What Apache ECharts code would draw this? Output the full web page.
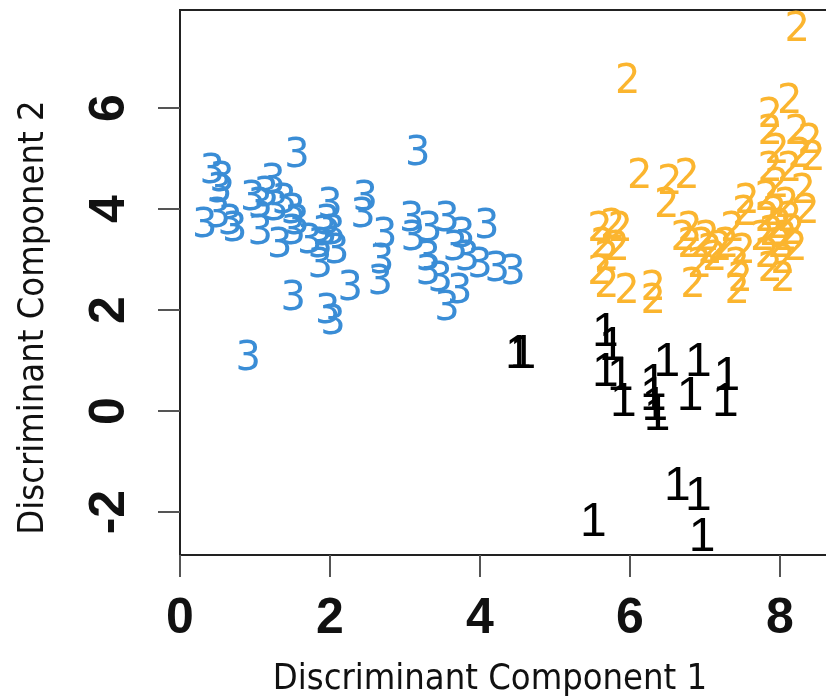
<!DOCTYPE html>
<html>
<head>
<meta charset="utf-8">
<script src="https://cdn.jsdelivr.net/npm/echarts@6/dist/echarts.min.js"></script>
<style>
  html, body { margin: 0; padding: 0; background: #fff; }
  #main { width: 826px; height: 700px; }
</style>
</head>
<body>
<div id="main"></div>
<script>
var xTicks = [0, 2, 4, 6, 8];
var yTicks = [-2, 0, 2, 4, 6];

// class 1 (black)
var class1 = [
  [4.51, 1.11], [4.57, 1.11], [5.67, 1.54], [5.76, 1.27], [5.67, 0.75],
  [5.87, 0.67], [5.91, 0.16], [6.31, 0.55], [6.31, 0.28], [6.33, 0.08],
  [6.36, -0.12], [6.49, 0.95], [6.80, 0.28], [6.91, 0.95], [7.29, 0.67],
  [7.27, 0.16], [6.63, -1.50], [6.91, -1.70], [5.51, -2.22], [6.96, -2.50]
];

// class 2 (orange)
var class2 = [
  [8.23, 7.54], [5.97, 6.51], [8.13, 6.10], [7.87, 5.82], [7.87, 5.50],
  [8.23, 5.50], [8.40, 5.31], [7.96, 5.11], [8.27, 5.03], [8.44, 4.97],
  [7.87, 4.77], [8.13, 4.77], [7.96, 4.44], [8.31, 4.32], [7.83, 4.18],
  [8.09, 4.04], [8.36, 3.92], [7.56, 4.12], [7.83, 3.78], [8.00, 3.64],
  [8.17, 3.52], [7.77, 3.39], [8.00, 3.25], [7.83, 3.05], [8.04, 2.93],
  [8.04, 2.59], [7.93, 3.88], [8.13, 3.78], [7.89, 3.49], [8.07, 3.39],
  [8.20, 3.19], [7.87, 2.79], [7.37, 3.58], [7.29, 3.25], [7.51, 3.13],
  [7.43, 2.85], [7.47, 2.59], [7.43, 2.34], [7.03, 3.39], [6.93, 2.85],
  [7.53, 3.88], [6.13, 4.63], [6.53, 4.51], [6.76, 4.63], [6.49, 4.04],
  [5.60, 3.58], [5.77, 3.64], [5.87, 3.58], [5.64, 3.25], [5.83, 3.19],
  [5.69, 2.99], [5.60, 2.73], [5.69, 2.46], [5.96, 2.34], [6.31, 2.40],
  [6.31, 2.14], [6.80, 3.58], [6.71, 3.39], [6.80, 3.25], [6.97, 3.25],
  [7.07, 3.13], [6.84, 2.46], [7.20, 3.19], [7.13, 2.99]
];

// class 3 (blue)
var class3 = [
  [1.56, 5.03], [0.43, 4.73], [0.56, 4.57], [0.53, 4.34], [1.24, 4.53],
  [0.33, 3.66], [0.51, 3.84], [0.67, 3.72], [0.73, 3.58], [0.97, 4.18],
  [1.07, 4.04], [1.15, 4.26], [1.28, 3.98], [1.39, 4.12], [1.07, 3.52],
  [1.33, 3.25], [1.51, 3.92], [1.56, 3.72], [1.51, 3.52], [1.73, 3.33],
  [1.87, 2.85], [2.00, 4.04], [1.97, 3.72], [2.04, 3.52], [2.09, 3.13],
  [1.87, 3.25], [1.93, 3.49], [1.51, 2.20], [1.97, 1.94], [2.04, 1.74],
  [2.27, 2.40], [0.91, 1.01], [2.47, 4.18], [2.44, 3.84], [2.73, 3.45],
  [2.69, 2.93], [2.67, 2.53], [3.09, 3.78], [3.11, 3.39], [3.33, 3.58],
  [3.56, 3.78], [3.17, 5.07], [3.31, 2.99], [3.31, 2.73], [3.77, 3.45],
  [4.09, 3.64], [3.83, 2.99], [4.00, 2.85], [4.23, 2.79], [4.44, 2.73],
  [3.73, 2.34], [3.56, 2.00], [3.47, 2.59], [3.67, 3.19]
];

var chart = echarts.init(document.getElementById('main'), null, { renderer: 'canvas' });

function textSeries(name, data, color, font, size) {
  return {
    name: name,
    type: 'scatter',
    data: data,
    symbolSize: 0,
    silent: true,
    itemStyle: { color: color, opacity: 1 },
    label: {
      show: true,
      position: 'inside',
      formatter: name,
      color: color,
      opacity: 1,
      textBorderWidth: 0,
      fontFamily: font,
      fontSize: size
    }
  };
}

var option = {
  backgroundColor: '#fff',
  animation: false,
  grid: {
    left: 180, top: 10, width: 660, height: 545,
    outerBoundsMode: 'none',
    show: true, borderColor: '#222', borderWidth: 2
  },
  xAxis: {
    type: 'value', min: 0, max: 8.8,
    name: 'Discriminant Component 1',
    nameLocation: 'middle', nameGap: 107,
    nameTextStyle: {
      fontFamily: 'Liberation Sans Narrow, DejaVu Sans Condensed, sans-serif',
      fontSize: 36, color: '#111', padding: [0, 40, 0, 0]
    },
    axisLine: { show: true, onZero: false, lineStyle: { color: '#222', width: 2 } },
    axisTick: { show: true, customValues: xTicks, length: 22, lineStyle: { color: '#555', width: 2 } },
    axisLabel: {
      customValues: xTicks, margin: 39,
      fontFamily: 'Liberation Sans, Arial, sans-serif', fontWeight: 'bold',
      fontSize: 50, color: '#111'
    },
    splitLine: { show: false }
  },
  yAxis: {
    type: 'value', min: -2.85, max: 7.94,
    name: 'Discriminant Component 2',
    nameLocation: 'middle', nameGap: 128,
    nameTextStyle: {
      fontFamily: 'Liberation Sans Narrow, DejaVu Sans Condensed, sans-serif',
      fontSize: 36, color: '#111', padding: [0, 70, 0, 0]
    },
    axisLine: { show: true, onZero: false, lineStyle: { color: '#222', width: 2 } },
    axisTick: { show: true, customValues: yTicks, length: 22, lineStyle: { color: '#555', width: 2 } },
    axisLabel: {
      customValues: yTicks, margin: 45, rotate: 90,
      fontFamily: 'Liberation Sans, Arial, sans-serif', fontWeight: 'bold',
      fontSize: 50, color: '#111'
    },
    splitLine: { show: false }
  },
  series: [
    textSeries('3', class3, '#3a8dd6', 'DejaVu Sans, sans-serif', 40),
    textSeries('2', class2, '#fbb52f', 'DejaVu Sans, sans-serif', 40),
    textSeries('1', class1, '#000', 'Liberation Sans, Arial, sans-serif', 48)
  ]
};

chart.setOption(option);
window.addEventListener('resize', chart.resize);
</script>
</body>
</html>
